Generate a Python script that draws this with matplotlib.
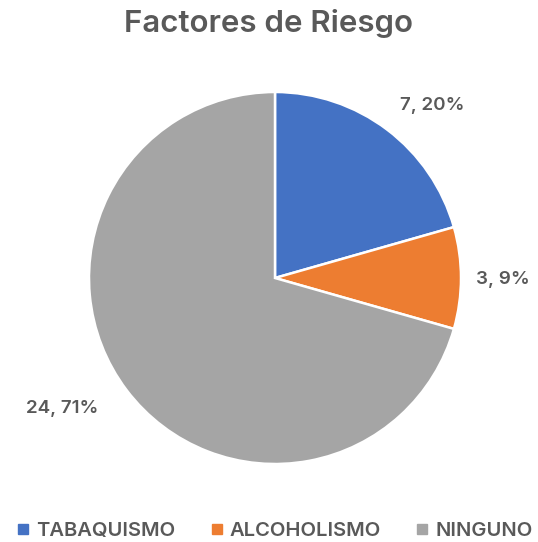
import matplotlib
matplotlib.use("Agg")
import matplotlib.pyplot as plt
from matplotlib.lines import Line2D

categories = ["TABAQUISMO", "ALCOHOLISMO", "NINGUNO"]
values = [7, 3, 24]
percent_labels = ["20%", "9%", "71%"]
colors = ["#4472C4", "#ED7D31", "#A5A5A5"]
text_color = "#595959"

plt.rcParams['font.family'] = ['Inter', 'DejaVu Sans']

W, H = 538, 542
fig = plt.figure(figsize=(W/100, H/100), dpi=100)
cx, cy, r = 275, 278, 186
ax = fig.add_axes([(cx - r)/W, (H - cy - r)/H, 2*r/W, 2*r/H])
ax.pie(values, colors=colors, startangle=90, counterclock=False, radius=1,
       wedgeprops=dict(edgecolor="white", linewidth=1.8))
ax.set_xlim(-1, 1)
ax.set_ylim(-1, 1)
ax.set_aspect("equal")
ax.axis("off")

# label positions (data coords relative to pie)
label_pos = [(0.844, 0.925), (1.226, -0.01), (-1.145, -0.704)]
for v, p, pos in zip(values, percent_labels, label_pos):
    ax.text(pos[0], pos[1], f"{v}, {p}", ha="center", va="center",
            fontsize=13.5, fontweight="semibold", color=text_color, clip_on=False)

fig.text(268/W, 1 - 23/H, "Factores de Riesgo", ha="center", va="center",
         fontsize=22.5, fontweight="semibold", color=text_color)

handles = [Line2D([0], [0], marker="s", linestyle="none", markersize=7.5,
                  markerfacecolor=c, markeredgecolor=c) for c in colors]
leg = fig.legend(handles, categories, loc="center", bbox_to_anchor=(275/W, 1 - 531/H),
                 ncol=3, frameon=False, fontsize=14.5, handlelength=0.6,
                 handletextpad=0.35, columnspacing=1.75)
for t in leg.get_texts():
    t.set_color(text_color)
    t.set_fontweight("semibold")

fig.savefig("out.png", dpi=100, facecolor="white")
